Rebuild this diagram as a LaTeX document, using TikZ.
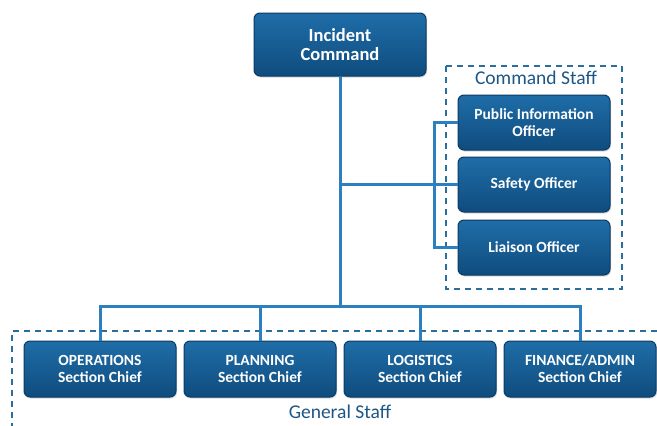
\documentclass[tikz,border=0pt]{standalone}
\usepackage{fontspec}
\setmainfont{Carlito}
\usetikzlibrary{shadows}
\definecolor{boxtop}{HTML}{1F6DA8}
\definecolor{boxbot}{HTML}{0F4C7E}
\definecolor{boxedge}{HTML}{0B3A62}
\definecolor{linec}{HTML}{2C80C0}
\definecolor{dashc}{HTML}{2A6E9E}
\definecolor{labc}{HTML}{1D5686}
\tikzset{
  box/.style={draw=boxedge, line width=1pt, rounded corners=6pt, top color=boxtop, bottom color=boxbot,
    text=white, font=\bfseries\fontsize{15.5}{17}\selectfont, align=center, inner sep=0pt,
    drop shadow={shadow xshift=1pt, shadow yshift=-1.5pt, opacity=0.3}},
  conn/.style={draw=linec, line width=3pt},
  dbox/.style={draw=dashc, line width=1.6pt, dash pattern=on 6pt off 5pt},
  lab/.style={text=labc, font=\fontsize{19.5}{21}\selectfont, inner sep=0pt}
}
\begin{document}
\begin{tikzpicture}[x=1pt,y=-1pt]
\useasboundingbox (0,0) rectangle (657,426);
% dashed frames
\draw[dbox] (446,66) rectangle (622,289);
\draw[dbox] (657,331) -- (12,331) -- (12,430);
\node[lab] (cslab) at (536,78) {Command Staff};
\node[lab] (gslab) at (340,412) {General Staff};
% nodes
\node[box, minimum width=172pt, minimum height=63pt, font=\bfseries\fontsize{18.5}{19}\selectfont] (ic) at (340,44.5) {Incident\\Command};
\node[box, minimum width=152pt, minimum height=55pt] (pio) at (534,122.5) {Public Information\\Officer};
\node[box, minimum width=152pt, minimum height=55pt] (so) at (534,184.5) {Safety Officer};
\node[box, minimum width=152pt, minimum height=55pt] (lo) at (534,247.5) {Liaison Officer};
\node[box, minimum width=152pt, minimum height=56pt] (ops) at (100,369) {OPERATIONS\\Section Chief};
\node[box, minimum width=152pt, minimum height=56pt] (pln) at (260,369) {PLANNING\\Section Chief};
\node[box, minimum width=152pt, minimum height=56pt] (log) at (420,369) {LOGISTICS\\Section Chief};
\node[box, minimum width=152pt, minimum height=56pt] (fin) at (580,369) {FINANCE/ADMIN\\Section Chief};
% connectors
\coordinate (trunk) at (340,306);
\coordinate (mid) at (340,184.5);
\coordinate (brk) at (434,184.5);
\draw[conn] (ic.south) -- (trunk);
\draw[conn] (mid) -- (brk);
\draw[conn] (pio.west) -| (brk) |- (lo.west);
\draw[conn] (brk) -- (so.west);
\draw[conn] (ops.north) |- (trunk) -| (fin.north);
\draw[conn] (pln.north) -- (pln.north |- trunk);
\draw[conn] (log.north) -- (log.north |- trunk);
\end{tikzpicture}
\end{document}
